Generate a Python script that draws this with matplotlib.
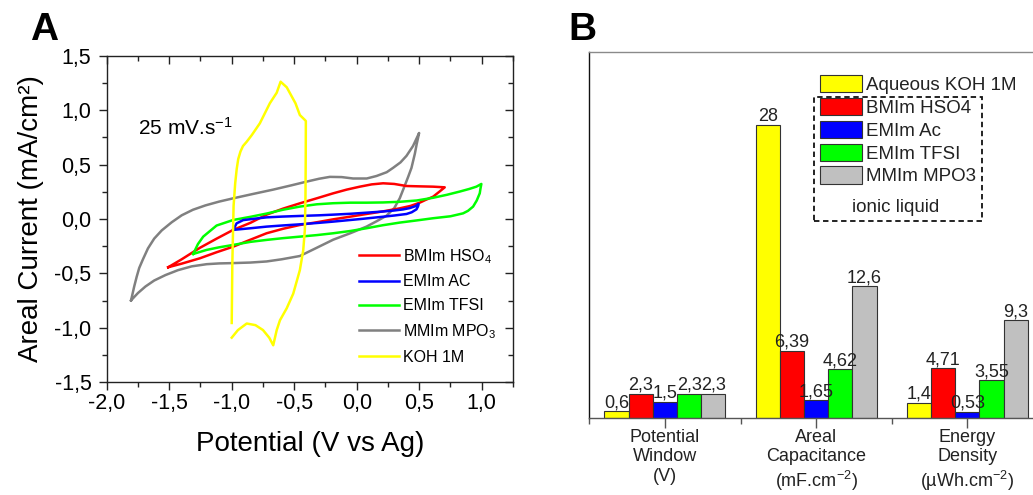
import matplotlib
matplotlib.use('Agg')
import matplotlib.pyplot as plt
from matplotlib.patches import Rectangle
from matplotlib.ticker import MultipleLocator, FuncFormatter
import numpy as np

plt.rcParams['font.family'] = ['Liberation Sans', 'DejaVu Sans']
plt.rcParams['mathtext.fontset'] = 'custom'
plt.rcParams['mathtext.rm'] = 'Liberation Sans'
plt.rcParams['mathtext.it'] = 'Liberation Sans:italic'
plt.rcParams['mathtext.bf'] = 'Liberation Sans:bold'

# ---------------- Panel A data (cyclic voltammograms) ----------------
mmim_v = [-1.805, -1.78, -1.76, -1.74, -1.71, -1.67, -1.62, -1.56, -1.48, -1.40, -1.31, -1.21,
          -1.10, -0.988, -0.83, -0.668, -0.52, -0.402, -0.30, -0.215, -0.12, -0.029, 0.08,
          0.158, 0.24, 0.291, 0.35, 0.398, 0.45, 0.499,
          0.48, 0.465, 0.438, 0.411, 0.375, 0.344, 0.30, 0.238, 0.16, 0.078, -0.05, -0.188,
          -0.33, -0.455, -0.60, -0.721, -0.85, -0.988, -1.10, -1.20, -1.32, -1.43, -1.53,
          -1.62, -1.69, -1.75, -1.805]
mmim_i = [-0.747, -0.62, -0.53, -0.45, -0.37, -0.27, -0.18, -0.105, -0.03, 0.034, 0.085, 0.125,
          0.16, 0.19, 0.23, 0.27, 0.31, 0.343, 0.37, 0.387, 0.385, 0.372, 0.372,
          0.395, 0.43, 0.47, 0.52, 0.58, 0.67, 0.79,
          0.69, 0.60, 0.47, 0.386, 0.28, 0.19, 0.10, 0.03, -0.02, -0.07, -0.13, -0.19,
          -0.27, -0.34, -0.37, -0.39, -0.40, -0.405, -0.408, -0.415, -0.435, -0.47, -0.515,
          -0.565, -0.62, -0.68, -0.747]

bmim_v = [-1.508, -1.40, -1.255, -1.12, -0.988, -0.85, -0.721, -0.59, -0.455, -0.32, -0.188,
          -0.08, 0.025, 0.12, 0.211, 0.30, 0.398, 0.50, 0.611, 0.704,
          0.66, 0.611, 0.55, 0.504, 0.43, 0.344, 0.21, 0.078, -0.06, -0.188, -0.32, -0.455,
          -0.59, -0.721, -0.85, -0.988, -1.12, -1.255, -1.40, -1.508]
bmim_i = [-0.443, -0.37, -0.265, -0.18, -0.10, -0.035, 0.04, 0.095, 0.144, 0.19, 0.236,
          0.27, 0.297, 0.318, 0.328, 0.322, 0.303, 0.300, 0.297, 0.291,
          0.25, 0.205, 0.175, 0.15, 0.12, 0.098, 0.07, 0.046, 0.02, -0.003, -0.03, -0.055,
          -0.09, -0.131, -0.19, -0.254, -0.305, -0.361, -0.41, -0.443]

emac_v = [-0.988, -0.961, -0.908, -0.80, -0.721, -0.60, -0.455, -0.30, -0.188, -0.05, 0.078,
          0.20, 0.291, 0.37, 0.424, 0.47, 0.495,
          0.49, 0.478, 0.44, 0.398, 0.30, 0.211, 0.05, -0.188, -0.30, -0.455, -0.60, -0.721,
          -0.85, -0.988]
emac_i = [-0.10, -0.04, -0.01, 0.005, 0.015, 0.022, 0.028, 0.034, 0.04, 0.048, 0.058,
          0.068, 0.077, 0.088, 0.10, 0.118, 0.138,
          0.115, 0.089, 0.062, 0.046, 0.032, 0.021, 0.002, -0.024, -0.035, -0.049, -0.06,
          -0.07, -0.085, -0.10]

emtf_v = [-1.308, -1.27, -1.228, -1.121, -0.988, -0.85, -0.721, -0.59, -0.455, -0.32, -0.188,
          -0.05, 0.078, 0.21, 0.344, 0.48, 0.611, 0.72, 0.824, 0.90, 0.957, 0.997,
          0.99, 0.984, 0.96, 0.931, 0.89, 0.851, 0.75, 0.611, 0.48, 0.344, 0.21, 0.078,
          -0.05, -0.188, -0.32, -0.455, -0.59, -0.721, -0.85, -0.988, -1.10, -1.201, -1.308]
emtf_i = [-0.321, -0.23, -0.162, -0.06, -0.009, 0.02, 0.05, 0.085, 0.114, 0.135, 0.145,
          0.15, 0.15, 0.152, 0.158, 0.17, 0.195, 0.222, 0.252, 0.276, 0.297, 0.322,
          0.28, 0.236, 0.17, 0.114, 0.075, 0.052, 0.025, 0.007, -0.013, -0.033, -0.057, -0.085,
          -0.11, -0.131, -0.148, -0.162, -0.176, -0.192, -0.21, -0.238, -0.26, -0.284, -0.321]

koh_v = [-1.0, -0.95, -0.88, -0.81, -0.75, -0.70, -0.668, -0.64, -0.614, -0.56, -0.508,
         -0.455, -0.428, -0.415, -0.41, -0.408, -0.407, -0.415, -0.455, -0.49, -0.56, -0.609,
         -0.64, -0.695, -0.775, -0.84, -0.88, -0.91, -0.93, -0.948, -0.96, -0.972, -0.985,
         -0.995, -1.0]
koh_i = [-1.09, -1.02, -0.96, -0.975, -1.02, -1.09, -1.16, -1.02, -0.93, -0.82, -0.686,
         -0.47, -0.288, -0.10, 0.20, 0.55, 0.90, 0.91, 0.955, 1.063, 1.21, 1.261,
         1.16, 1.063, 0.879, 0.77, 0.71, 0.67, 0.62, 0.55, 0.46, 0.33, 0.12,
         -0.40, -0.955]

# ---------------- Panel B data (bar chart) ----------------
categories = ['Potential\nWindow\n(V)', 'Areal\nCapacitance\n(mF.cm$^{-2}$)',
              'Energy\nDensity\n(\u00b5Wh.cm$^{-2}$)']
series_names = ['Aqueous KOH 1M', 'BMIm HSO4', 'EMIm Ac', 'EMIm TFSI', 'MMIm MPO3']
koh_vals = [0.6, 28, 1.4]
bmim_vals = [2.3, 6.39, 4.71]
emac_vals = [1.5, 1.65, 0.53]
emtf_vals = [2.3, 4.62, 3.55]
mmim_vals = [2.3, 12.6, 9.3]
bar_colors = ['#ffff00', '#ff0000', '#0000ff', '#00ff00', '#c0c0c0']

W, H = 1033, 495
fig = plt.figure(figsize=(W / 100, H / 100), dpi=100)


def fx(px):
    return px / W


def fy(py):
    return 1 - py / H


# ================= Panel A =================
axA = fig.add_axes([fx(106.7), fy(382.3), (513 - 106.7) / W, (382.3 - 55.7) / H])
lw = 1.8
hm, = axA.plot(mmim_v, mmim_i, color='#808080', lw=lw, label='MMIm MPO$_3$')
hb, = axA.plot(bmim_v, bmim_i, color='#ff0000', lw=lw, label='BMIm HSO$_4$')
ht, = axA.plot(emtf_v, emtf_i, color='#00ff00', lw=lw, label='EMIm TFSI')
ha, = axA.plot(emac_v, emac_i, color='#0000ff', lw=lw, label='EMIm AC')
hk, = axA.plot(koh_v, koh_i, color='#ffff00', lw=lw, label='KOH 1M')

axA.set_xlim(-2.0, 1.25)
axA.set_ylim(-1.5, 1.5)
fmt = FuncFormatter(lambda v, p: '0,0' if abs(v) < 1e-9 else f'{v:.1f}'.replace('.', ','))
axA.xaxis.set_major_locator(MultipleLocator(0.5))
axA.xaxis.set_minor_locator(MultipleLocator(0.25))
axA.yaxis.set_major_locator(MultipleLocator(0.5))
axA.yaxis.set_minor_locator(MultipleLocator(0.25))
axA.xaxis.set_major_formatter(fmt)
axA.yaxis.set_major_formatter(fmt)
axA.tick_params(which='major', direction='out', length=6, width=1.0, labelsize=15.5, color='#222222')
axA.tick_params(which='minor', direction='out', length=3.5, width=1.0, color='#222222')
axA.tick_params(axis='x', pad=2)
axA.tick_params(axis='y', pad=5)
for s in axA.spines.values():
    s.set_color('#222222')
    s.set_linewidth(1.0)

# mirrored inward ticks on top and right
secx = axA.secondary_xaxis('top')
secx.xaxis.set_major_locator(MultipleLocator(0.5))
secx.xaxis.set_minor_locator(MultipleLocator(0.25))
secx.tick_params(which='major', direction='in', length=6, width=1.0, labeltop=False, color='#222222')
secx.tick_params(which='minor', direction='in', length=3.5, width=1.0, color='#222222')
secx.spines['top'].set_visible(False)
secy = axA.secondary_yaxis('right')
secy.yaxis.set_major_locator(MultipleLocator(0.5))
secy.yaxis.set_minor_locator(MultipleLocator(0.25))
secy.tick_params(which='major', direction='in', length=6, width=1.0, labelright=False, color='#222222')
secy.tick_params(which='minor', direction='in', length=3.5, width=1.0, color='#222222')
secy.spines['right'].set_visible(False)

axA.set_xlabel('Potential (V vs Ag)', fontsize=20)
axA.set_ylabel('Areal Current (mA/cm\u00b2)', fontsize=20)
axA.xaxis.set_label_coords(0.5, -0.148)
axA.yaxis.set_label_coords(-0.155, 0.5)

fig.text(fx(137.7), fy(135), '25 mV.s$^{-1}$', fontsize=15, va='baseline', ha='left')

axA.legend(handles=[hb, ha, ht, hm, hk], loc='upper left',
           bbox_to_anchor=(fx(359), fy(247)), bbox_transform=fig.transFigure,
           frameon=False, borderpad=0, borderaxespad=0, fontsize=11.5,
           handlelength=2.5, handletextpad=0.25, labelspacing=0.55)

# ================= Panel B =================
axB = fig.add_axes([fx(589.3), fy(417.5), (1043 - 589.3) / W, (417.5 - 52.3) / H])
x = np.arange(len(categories))
bw = 0.16
containers = []
for i, (vals, col) in enumerate(zip([koh_vals, bmim_vals, emac_vals, emtf_vals, mmim_vals], bar_colors)):
    c = axB.bar(x + (i - 2) * bw, vals, width=bw, color=col, edgecolor='#333333', linewidth=0.8)
    containers.append(c)
    axB.bar_label(c, labels=[f'{v:g}'.replace('.', ',') for v in vals], padding=0,
                  fontsize=13, color='#222222')

axB.set_xlim(-0.5, 2.5)
axB.set_ylim(0, 35)
axB.set_xticks(x)
axB.set_xticklabels(categories, fontsize=13, color='#222222', linespacing=1.2)
axB.set_xticks([-0.5, 0.5, 1.5, 2.5], minor=True)
axB.set_yticks([])
axB.tick_params(axis='x', which='major', direction='out', length=7, width=1.0, pad=1, color='#555555')
axB.tick_params(axis='x', which='minor', direction='out', length=4, width=1.0, color='#555555')
axB.spines['right'].set_visible(False)
axB.spines['top'].set_color('#8a8a8a')
axB.spines['bottom'].set_color('#555555')
axB.spines['left'].set_color('#111111')
for s in axB.spines.values():
    s.set_linewidth(1.0)

axB.legend(handles=containers, labels=series_names, loc='upper left',
           bbox_to_anchor=(fx(820.3), fy(75)), bbox_transform=fig.transFigure,
           frameon=False, borderpad=0, borderaxespad=0, fontsize=13.5,
           handlelength=2.2, handleheight=1.05, handletextpad=0.25, labelspacing=0.2,
           labelcolor='#222222')

fig.add_artist(Rectangle((fx(814), fy(220.7)), (981.7 - 814) / W, (220.7 - 97.3) / H,
                         transform=fig.transFigure, fill=False, linestyle=(0, (3, 2)),
                         linewidth=1.3, edgecolor='#111111'))
fig.text(fx(895.7), fy(212), 'ionic liquid', fontsize=13.5, ha='center', va='baseline',
         color='#222222')

# panel letters
fig.text(fx(30), fy(40), 'A', fontsize=28, fontweight='bold', va='baseline', ha='left')
fig.text(fx(568), fy(40), 'B', fontsize=28, fontweight='bold', va='baseline', ha='left')

fig.savefig('out.png', dpi=100)
